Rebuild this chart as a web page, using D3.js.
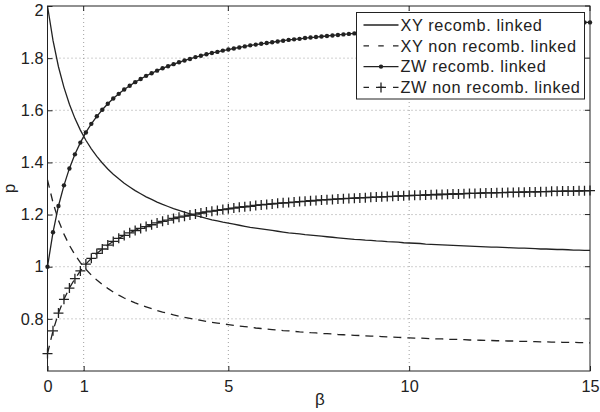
<!DOCTYPE html>
<html>
<head>
<meta charset="utf-8">
<script src="https://cdn.jsdelivr.net/npm/d3@7"></script>
<style>
  body { margin: 0; background: #fff; }
  text { font-family: "Liberation Sans", Arial, sans-serif; fill: #222; }
</style>
</head>
<body>
<svg id="chart" width="600" height="412"></svg>
<script>
// values (100 points, beta 0..15)
const beta = [0, 0.152, 0.303, 0.455, 0.606, 0.758, 0.909, 1.061, 1.212, 1.364,
  1.515, 1.667, 1.818, 1.970, 2.121, 2.273, 2.424, 2.576, 2.727, 2.879,
  3.030, 3.182, 3.333, 3.485, 3.636, 3.788, 3.939, 4.091, 4.242, 4.394,
  4.545, 4.697, 4.848, 5.000, 5.152, 5.303, 5.455, 5.606, 5.758, 5.909,
  6.061, 6.212, 6.364, 6.515, 6.667, 6.818, 6.970, 7.121, 7.273, 7.424,
  7.576, 7.727, 7.879, 8.030, 8.182, 8.333, 8.485, 8.636, 8.788, 8.939,
  9.091, 9.242, 9.394, 9.545, 9.697, 9.848, 10.000, 10.152, 10.303, 10.455,
  10.606, 10.758, 10.909, 11.061, 11.212, 11.364, 11.515, 11.667, 11.818, 11.970,
  12.121, 12.273, 12.424, 12.576, 12.727, 12.879, 13.030, 13.182, 13.333, 13.485,
  13.636, 13.788, 13.939, 14.091, 14.242, 14.394, 14.545, 14.697, 14.848, 15];

const xyRecomb = [2, 1.868, 1.767, 1.688, 1.623, 1.569, 1.524, 1.485, 1.452, 1.423,
  1.398, 1.375, 1.355, 1.337, 1.320, 1.306, 1.292, 1.280, 1.268, 1.258,
  1.248, 1.239, 1.231, 1.223, 1.216, 1.209, 1.203, 1.196, 1.191, 1.185,
  1.180, 1.176, 1.171, 1.167, 1.163, 1.159, 1.155, 1.151, 1.148, 1.145,
  1.142, 1.139, 1.136, 1.133, 1.130, 1.128, 1.126, 1.123, 1.121, 1.119,
  1.117, 1.115, 1.113, 1.111, 1.109, 1.107, 1.105, 1.104, 1.102, 1.101,
  1.099, 1.098, 1.096, 1.095, 1.094, 1.092, 1.091, 1.090, 1.089, 1.087,
  1.086, 1.085, 1.084, 1.083, 1.082, 1.081, 1.080, 1.079, 1.078, 1.077,
  1.076, 1.075, 1.075, 1.074, 1.073, 1.072, 1.071, 1.071, 1.070, 1.069,
  1.068, 1.068, 1.067, 1.066, 1.066, 1.065, 1.064, 1.064, 1.063, 1.063];

const xyNonRecomb = [1.333, 1.246, 1.178, 1.125, 1.082, 1.046, 1.016, 0.990, 0.968, 0.949,
  0.932, 0.917, 0.903, 0.891, 0.880, 0.870, 0.861, 0.853, 0.846, 0.839,
  0.832, 0.826, 0.821, 0.815, 0.810, 0.806, 0.802, 0.798, 0.794, 0.790,
  0.787, 0.784, 0.781, 0.778, 0.775, 0.772, 0.770, 0.768, 0.765, 0.763,
  0.761, 0.759, 0.757, 0.755, 0.754, 0.752, 0.750, 0.749, 0.747, 0.746,
  0.744, 0.743, 0.742, 0.740, 0.739, 0.738, 0.737, 0.736, 0.735, 0.734,
  0.733, 0.732, 0.731, 0.730, 0.729, 0.728, 0.727, 0.726, 0.726, 0.725,
  0.724, 0.723, 0.723, 0.722, 0.721, 0.721, 0.720, 0.719, 0.719, 0.718,
  0.717, 0.717, 0.716, 0.716, 0.715, 0.715, 0.714, 0.714, 0.713, 0.713,
  0.712, 0.712, 0.711, 0.711, 0.710, 0.710, 0.710, 0.709, 0.709, 0.708];

const zwRecomb = [1, 1.132, 1.233, 1.312, 1.377, 1.431, 1.476, 1.515, 1.548, 1.577,
  1.602, 1.625, 1.645, 1.663, 1.680, 1.694, 1.708, 1.720, 1.732, 1.742,
  1.752, 1.761, 1.769, 1.777, 1.784, 1.791, 1.797, 1.804, 1.809, 1.815,
  1.820, 1.824, 1.829, 1.833, 1.837, 1.841, 1.845, 1.849, 1.852, 1.855,
  1.858, 1.861, 1.864, 1.867, 1.870, 1.872, 1.874, 1.877, 1.879, 1.881,
  1.883, 1.885, 1.887, 1.889, 1.891, 1.893, 1.895, 1.896, 1.898, 1.899,
  1.901, 1.902, 1.904, 1.905, 1.906, 1.908, 1.909, 1.910, 1.911, 1.913,
  1.914, 1.915, 1.916, 1.917, 1.918, 1.919, 1.920, 1.921, 1.922, 1.923,
  1.924, 1.925, 1.925, 1.926, 1.927, 1.928, 1.929, 1.929, 1.930, 1.931,
  1.932, 1.932, 1.933, 1.934, 1.934, 1.935, 1.936, 1.936, 1.937, 1.937];

const zwNonRecomb = [0.667, 0.754, 0.822, 0.875, 0.918, 0.954, 0.984, 1.010, 1.032, 1.051,
  1.068, 1.083, 1.097, 1.109, 1.120, 1.130, 1.139, 1.147, 1.154, 1.161,
  1.168, 1.174, 1.179, 1.185, 1.190, 1.194, 1.198, 1.202, 1.206, 1.210,
  1.213, 1.216, 1.219, 1.222, 1.225, 1.228, 1.230, 1.232, 1.235, 1.237,
  1.239, 1.241, 1.243, 1.245, 1.246, 1.248, 1.250, 1.251, 1.253, 1.254,
  1.256, 1.257, 1.258, 1.260, 1.261, 1.262, 1.263, 1.264, 1.265, 1.266,
  1.267, 1.268, 1.269, 1.270, 1.271, 1.272, 1.273, 1.274, 1.274, 1.275,
  1.276, 1.277, 1.277, 1.278, 1.279, 1.279, 1.280, 1.281, 1.281, 1.282,
  1.283, 1.283, 1.284, 1.284, 1.285, 1.285, 1.286, 1.286, 1.287, 1.287,
  1.288, 1.288, 1.289, 1.289, 1.290, 1.290, 1.290, 1.291, 1.291, 1.292];

const xTicks = [0, 1, 5, 10, 15];
const yTicks = [0.8, 1, 1.2, 1.4, 1.6, 1.8, 2];
const legendLabels = ['XY recomb. linked', 'XY non recomb. linked', 'ZW recomb. linked', 'ZW non recomb. linked'];

const ink = '#222';
const font = '"Liberation Sans", Arial, sans-serif';
const m = {left: 47.5, right: 590, top: 6, bottom: 371};

const svg = d3.select('#chart');

const x = d3.scaleLinear().domain([0, 15]).range([m.left, m.right]);
const y = d3.scaleLinear().domain([0.6, 2]).range([m.bottom, m.top]);

// dotted grid
const grid = svg.append('g');
grid.selectAll('.gx').data(xTicks.filter(d => d > 0 && d < 15)).enter().append('line')
  .attr('x1', d => x(d)).attr('x2', d => x(d))
  .attr('y1', m.top).attr('y2', m.bottom)
  .attr('stroke', '#888').attr('stroke-width', 0.8).attr('stroke-dasharray', '1,3');
grid.selectAll('.gy').data(yTicks.filter(d => d < 2)).enter().append('line')
  .attr('x1', m.left).attr('x2', m.right)
  .attr('y1', d => y(d)).attr('y2', d => y(d))
  .attr('stroke', '#888').attr('stroke-width', 0.8).attr('stroke-dasharray', '1,3');

const pts = vals => beta.map((b, i) => [b, vals[i]]);
const line = d3.line().x(d => x(d[0])).y(d => y(d[1]));

const plot = svg.append('g');

plot.append('path').datum(pts(xyRecomb))
  .attr('d', line).attr('fill', 'none').attr('stroke', ink).attr('stroke-width', 1.3);

plot.append('path').datum(pts(xyNonRecomb))
  .attr('d', line).attr('fill', 'none').attr('stroke', ink).attr('stroke-width', 1.3)
  .attr('stroke-dasharray', '8,6');

plot.append('path').datum(pts(zwRecomb))
  .attr('d', line).attr('fill', 'none').attr('stroke', ink).attr('stroke-width', 1.3);
plot.selectAll('.dot').data(pts(zwRecomb)).enter().append('circle')
  .attr('cx', d => x(d[0])).attr('cy', d => y(d[1])).attr('r', 2.2).attr('fill', ink);

plot.append('path').datum(pts(zwNonRecomb))
  .attr('d', line).attr('fill', 'none').attr('stroke', ink).attr('stroke-width', 1.3)
  .attr('stroke-dasharray', '8,6');
plot.selectAll('.plus').data(pts(zwNonRecomb)).enter().append('path')
  .attr('transform', d => `translate(${x(d[0])},${y(d[1])})`)
  .attr('d', 'M-5,0H5M0,-5V5')
  .attr('fill', 'none').attr('stroke', ink).attr('stroke-width', 1.3);

// axes box and ticks
const xAxis = d3.axisBottom(x).tickValues(xTicks).tickSize(-5).tickPadding(9).tickFormat(d3.format('d'));
const yAxis = d3.axisLeft(y).tickValues(yTicks).tickSize(-5).tickPadding(4).tickFormat(d => d3.format('~g')(d));

const gx = svg.append('g').attr('transform', `translate(0,${m.bottom})`).call(xAxis);
const gy = svg.append('g').attr('transform', `translate(${m.left},0)`).call(yAxis);
[gx, gy].forEach(g => {
  g.select('.domain').remove();
  g.selectAll('line').attr('stroke', ink);
  g.selectAll('text').attr('font-size', 16.3).attr('fill', ink).style('font-family', font);
});
gy.selectAll('text').filter(d => d === 2).attr('dy', '0.6em');
// top/right ticks
svg.append('g').selectAll('line').data(xTicks).enter().append('line')
  .attr('x1', d => x(d)).attr('x2', d => x(d)).attr('y1', m.top).attr('y2', m.top + 5).attr('stroke', ink);
svg.append('g').selectAll('line').data(yTicks).enter().append('line')
  .attr('x1', m.right).attr('x2', m.right - 5).attr('y1', d => y(d)).attr('y2', d => y(d)).attr('stroke', ink);

svg.append('rect')
  .attr('x', m.left).attr('y', m.top)
  .attr('width', m.right - m.left).attr('height', m.bottom - m.top)
  .attr('fill', 'none').attr('stroke', ink).attr('stroke-width', 1);

svg.append('text').attr('x', 320).attr('y', 405)
  .attr('text-anchor', 'middle').attr('font-size', 17).text('β');
svg.append('text').attr('transform', `translate(15,${(m.top + m.bottom) / 2}) rotate(-90)`)
  .attr('text-anchor', 'middle').attr('font-size', 17).text('p');

// legend
const lg = svg.append('g').attr('transform', 'translate(356.5,12.5)');
lg.append('rect').attr('width', 228).attr('height', 86.5)
  .attr('fill', '#fff').attr('stroke', ink).attr('stroke-width', 1);
const rowY = i => 12.5 + i * 20.8;
const row = lg.selectAll('.row').data(legendLabels).enter().append('g')
  .attr('transform', (d, i) => `translate(0,${rowY(i)})`);
row.append('line').attr('x1', 7).attr('x2', 42).attr('y1', 0).attr('y2', 0)
  .attr('stroke', ink).attr('stroke-width', 1.3)
  .attr('stroke-dasharray', (d, i) => i % 2 ? '5.5,9.25' : null);
row.filter((d, i) => i === 2).append('circle').attr('cx', 24.5).attr('cy', 0).attr('r', 2.2).attr('fill', ink);
row.filter((d, i) => i === 3).append('path').attr('d', 'M19.5,0H29.5M24.5,-5V5')
  .attr('stroke', ink).attr('stroke-width', 1.3);
row.append('text').attr('x', 44).attr('y', 5.8).attr('font-size', 16.3)
  .attr('letter-spacing', 0.6).text(d => d);
</script>
</body>
</html>
